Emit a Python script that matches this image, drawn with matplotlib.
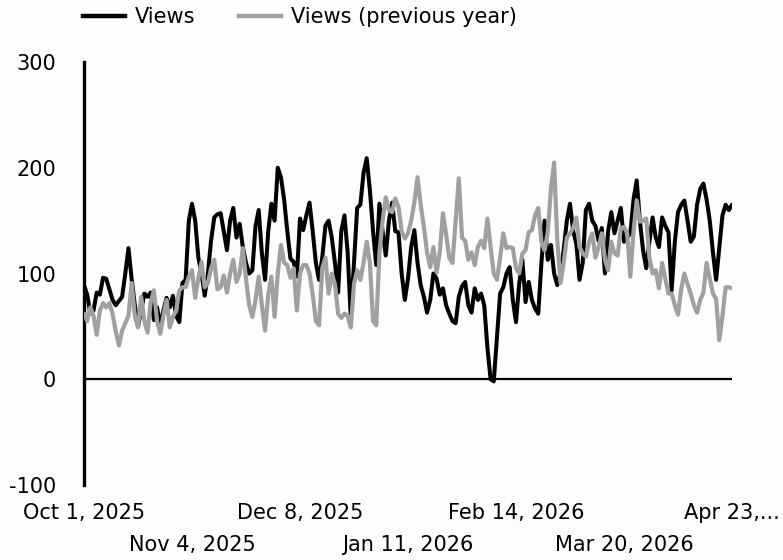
import matplotlib
matplotlib.use("Agg")
import matplotlib.pyplot as plt
import pandas as pd
from matplotlib.lines import Line2D

start_date = "2025-10-01"
end_date = "2026-04-23"

views = [
    89, 80, 62, 65, 82, 80, 96, 95, 85, 75,
    70, 74, 78, 100, 124, 95, 70, 50, 65, 81,
    78, 82, 56, 68, 51, 65, 77, 68, 79, 60,
    54, 91, 94, 150, 166, 150, 115, 100, 79, 100,
    131, 153, 156, 157, 140, 122, 150, 162, 134, 147,
    125, 110, 100, 103, 145, 160, 119, 94, 140, 166,
    150, 200, 191, 170, 140, 114, 111, 97, 152, 141,
    155, 167, 140, 110, 94, 115, 145, 150, 134, 110,
    82, 140, 155, 120, 58, 110, 162, 165, 195, 209,
    179, 140, 108, 166, 140, 117, 150, 167, 140, 139,
    100, 75, 95, 125, 141, 110, 89, 78, 63, 75,
    100, 95, 80, 86, 70, 62, 55, 53, 78, 88,
    92, 70, 63, 86, 75, 81, 70, 30, 0, -2,
    40, 81, 87, 100, 106, 75, 54, 90, 113, 73,
    92, 75, 67, 62, 110, 150, 113, 127, 100, 89,
    100, 122, 150, 166, 140, 128, 94, 110, 160, 166,
    150, 145, 131, 143, 100, 140, 158, 138, 150, 162,
    130, 134, 138, 170, 188, 150, 122, 105, 130, 153,
    134, 125, 153, 145, 139, 84, 130, 158, 165, 169,
    150, 130, 135, 165, 180, 185, 170, 150, 120, 94,
    125, 155, 165, 160, 165,
]

views_prev = [
    62, 55, 68, 60, 42, 65, 72, 68, 72, 62,
    45, 32, 46, 53, 60, 91, 60, 49, 78, 55,
    44, 73, 84, 55, 43, 60, 75, 49, 59, 65,
    84, 87, 87, 97, 103, 77, 95, 111, 87, 91,
    105, 113, 85, 87, 98, 82, 100, 113, 92, 100,
    124, 95, 70, 59, 75, 97, 70, 46, 80, 97,
    59, 100, 127, 110, 108, 96, 105, 65, 100, 108,
    108, 100, 80, 55, 51, 105, 115, 81, 100, 90,
    62, 58, 62, 60, 49, 90, 103, 94, 110, 130,
    110, 55, 51, 119, 150, 172, 160, 158, 171, 163,
    140, 133, 138, 150, 167, 191, 165, 144, 120, 106,
    125, 101, 120, 157, 137, 115, 110, 150, 190, 134,
    131, 113, 120, 108, 125, 131, 124, 152, 125, 100,
    94, 115, 138, 124, 125, 124, 105, 100, 119, 122,
    139, 141, 155, 162, 130, 122, 139, 180, 205, 131,
    91, 110, 134, 138, 143, 153, 125, 119, 116, 130,
    138, 115, 125, 138, 113, 103, 130, 119, 117, 143,
    144, 138, 97, 140, 169, 149, 150, 152, 115, 100,
    103, 86, 110, 95, 81, 81, 70, 61, 85, 100,
    90, 81, 70, 63, 75, 82, 110, 95, 81, 76,
    37, 60, 87, 87, 86,
]

row1_ticks = ["2025-10-01", "2025-12-08", "2026-02-14", "2026-04-23"]
row1_labels = ["Oct 1, 2025", "Dec 8, 2025", "Feb 14, 2026", "Apr 23,..."]
row2_ticks = ["2025-11-04", "2026-01-11", "2026-03-20"]
row2_labels = ["Nov 4, 2025", "Jan 11, 2026", "Mar 20, 2026"]
y_ticks = [300, 200, 100, 0, -100]

dates = pd.date_range(start_date, end_date, freq="D")

FS = 15
plt.rcParams["font.family"] = ["DejaVu Sans"]

fig = plt.figure(figsize=(7.83, 5.60), dpi=100)
fig.patch.set_facecolor("#fdfdfd")
ax = fig.add_axes([84 / 783, 1 - 485 / 560, (732 - 84) / 783, (485 - 62) / 560])
ax.set_facecolor("#fdfdfd")

ax.plot(dates, views, color="#000000", lw=2.9, solid_joinstyle="round",
        solid_capstyle="round", label="Views", zorder=3)
ax.plot(dates, views_prev, color="#a0a0a0", lw=3.0, solid_joinstyle="round",
        solid_capstyle="round", label="Views (previous year)", zorder=4)
ax.axhline(0, color="#000000", lw=1.6, zorder=2)

ax.set_xlim(dates[0], dates[-1])
ax.set_ylim(-100, 300)
ax.set_yticks(y_ticks)
ax.set_yticklabels([str(v) for v in y_ticks], fontsize=FS)

ax.set_xticks(pd.to_datetime(row1_ticks))
ax.set_xticklabels(row1_labels, fontsize=FS)
ax.set_xticks(pd.to_datetime(row2_ticks), minor=True)
ax.set_xticklabels(row2_labels, minor=True, fontsize=FS)
ax.tick_params(axis="x", which="major", length=0, pad=13)
ax.tick_params(axis="x", which="minor", length=0, pad=36)
ax.tick_params(axis="y", length=0, pad=20)

for s in ["top", "right", "bottom"]:
    ax.spines[s].set_visible(False)
ax.spines["left"].set_linewidth(2.4)
ax.spines["left"].set_color("#000000")

handles = [Line2D([], [], color="#000000", lw=3.2), Line2D([], [], color="#a0a0a0", lw=3.2)]
fig.legend(handles, ["Views", "Views (previous year)"], loc="upper left",
           bbox_to_anchor=(81 / 783, 1 - 5 / 560), ncol=2, frameon=False, fontsize=FS,
           handlelength=2.0, handletextpad=0.5, columnspacing=2.1, borderaxespad=0.0,
           borderpad=0.1)

fig.savefig("out.png", dpi=100, facecolor=fig.get_facecolor())
